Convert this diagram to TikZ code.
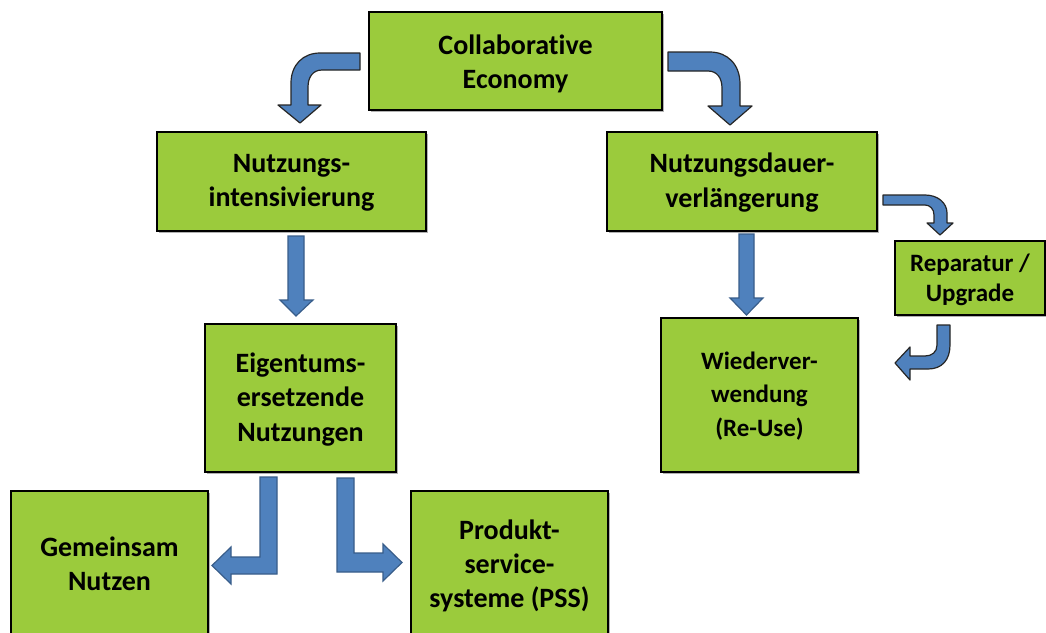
\documentclass[tikz,border=0pt]{standalone}
\usepackage{fontspec}
\setmainfont{Carlito}[Ligatures=CommonOff]
\usetikzlibrary{shadows,calc}
\definecolor{boxgreen}{HTML}{9BCB3C}
\definecolor{arrowblue}{HTML}{4F81BD}
\definecolor{arrowedge}{HTML}{385D8A}
\tikzset{
  bx/.style 2 args={draw=black, line width=1.1pt, fill=boxgreen,
    minimum width={#1*0.75pt}, minimum height={#2*0.75pt}, inner sep=0pt,
    drop shadow={shadow xshift=1.2pt, shadow yshift=-1.2pt, fill=black, opacity=0.3}},
  txt/.style={align=center, inner sep=0pt, font=\fontsize{21}{25.6}\selectfont\bfseries},
  smalltxt/.style={align=center, inner sep=0pt, font=\fontsize{18.75}{25.4}\selectfont\bfseries},
  repartxt/.style={align=center, inner sep=0pt, font=\fontsize{18.75}{23}\selectfont\bfseries},
  curvearrow/.style={fill=arrowblue, draw=black!85, line width=0.9pt, line join=round},
  blockarrow/.style={fill=arrowblue, draw=arrowedge, line width=0.9pt, line join=miter}
}
\begin{document}
\begin{tikzpicture}[x=0.75pt,y=-0.75pt]
\useasboundingbox (0,0) rectangle (1046,632);
\clip (0,0) rectangle (1046,632);
\fill[white] (0,0) rectangle (1046,632);

% boxes
\node[bx={293}{98}]  (collab)  at (515.5,61)    {};
\node[bx={269}{99}]  (intens)  at (291.5,181.5) {};
\node[bx={270}{99}]  (dauer)   at (742,181.5)   {};
\node[bx={150}{74}]  (repar)   at (970,278)     {};
\node[bx={191}{148}] (eigen)   at (300.5,398)   {};
\node[bx={197}{154}] (wieder)  at (759.5,395)   {};
\node[bx={197}{154}] (gemein)  at (109.5,568)   {};
\node[bx={197}{154}] (produkt) at (509.5,568)   {};

% texts
\node[txt] (collabT)  at ($(collab)+(0,3)$)    {Collaborative\\Economy};
\node[txt] (intensT)  at ($(intens)+(0,1)$)    {Nutzungs-\\intensivierung};
\node[txt] (dauerT)   at ($(dauer)+(0,1)$)     {Nutzungsdauer-\\verlängerung};
\node[repartxt] (reparT) at ($(repar)+(0,2)$)  {Reparatur /\\Upgrade};
\node[txt] (eigenT)   at ($(eigen)+(0,1.5)$)   {Eigentums-\\ersetzende\\Nutzungen};
\node[smalltxt] (wiederT) at ($(wieder)+(0,1)$) {Wiederver-\\wendung\\(Re-Use)};
\node[txt] (gemeinT)  at ($(gemein)+(0,-4)$)   {Gemeinsam\\Nutzen};
\node[txt] (produktT) at ($(produkt)+(0,-2)$)  {Produkt-\\service-\\systeme (PSS)};

% curved arrow: collab -> intens
\draw[curvearrow] (360,53) -- (320,53) .. controls (303,53) and (291,65) .. (291,83)
  -- (291,105) -- (278,105) -- (300,123) -- (321,105) -- (308,105) -- (308,87)
  .. controls (308,77) and (313,70) .. (322,70) -- (360,70) -- cycle;

% curved arrow: collab -> dauer
\draw[curvearrow] (668,52) -- (710,52) .. controls (727,52) and (740,64) .. (740,84)
  -- (740,106) -- (752,106) -- (730,125) -- (708,106) -- (722,106) -- (722,88)
  .. controls (722,78) and (717,71) .. (708,71) -- (668,71) -- cycle;

% curved arrow: dauer -> repar
\draw[curvearrow] (883,195) -- (925,195) .. controls (938,195) and (947,203) .. (947,213)
  -- (947,223) -- (953,223) -- (940,235) -- (927,223) -- (934,223) -- (934,215)
  .. controls (934,209) and (930,205) .. (925,205) -- (883,205) -- cycle;

% curved arrow: repar -> wieder
\draw[curvearrow] (937,325) -- (950,325) -- (950,345) .. controls (950,360) and (942,369) .. (928,369)
  -- (910,369) -- (910,380) -- (895,363) -- (910,347) -- (910,356) -- (925,356)
  .. controls (932,356) and (937,352) .. (937,345) -- cycle;

% straight arrows
\draw[blockarrow] (288,236) -- (304,236) -- (304,300) -- (313,300) -- (296,316)
  -- (280,300) -- (288,300) -- cycle;
\draw[blockarrow] (739,234) -- (754,234) -- (754,298) -- (763,298) -- (746.5,315)
  -- (730,298) -- (739,298) -- cycle;

% L arrows
\draw[blockarrow] (260,477) -- (277,477) -- (277,574) -- (231,574) -- (231,584)
  -- (212,565.5) -- (231,547) -- (231,557) -- (260,557) -- cycle;
\draw[blockarrow] (337,478) -- (354,478) -- (354,553) -- (383,553) -- (383,544)
  -- (402,562.5) -- (383,581) -- (383,572) -- (337,572) -- cycle;
\end{tikzpicture}
\end{document}
